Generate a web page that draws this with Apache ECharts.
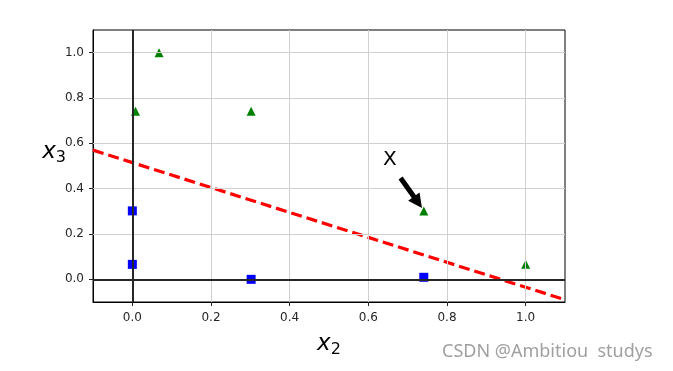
<!DOCTYPE html>
<html>
<head>
<meta charset="utf-8">
<script src="https://cdn.jsdelivr.net/npm/echarts@6/dist/echarts.min.js"></script>
<style>html,body{margin:0;padding:0;background:#fff;}#c{width:673px;height:371px;}</style>
</head>
<body>
<div id="c"></div>
<script>
// Data
const squaresX = [0.0, 0.0, 0.302, 0.741];
const squaresY = [0.302, 0.066, 0.0, 0.009];
const trianglesX = [0.068, 0.008, 0.302, 0.741, 1.0];
const trianglesY = [1.0, 0.741, 0.741, 0.302, 0.066];
const boundaryX = [-0.1, 1.1];
const boundaryY = [0.57, -0.09];
const xTicks = [0.0, 0.2, 0.4, 0.6, 0.8, 1.0];
const yTicks = [0.0, 0.2, 0.4, 0.6, 0.8, 1.0];
const xRange = [-0.1, 1.1];
const yRange = [-0.1, 1.1];
const arrowTail = [0.682, 0.447];
const arrowTip = [0.726, 0.34];
const labelPos = [0.655, 0.526];
const labelText = 'X';

const zip = (a, b) => a.map((v, i) => [v, b[i]]);
const tickFont = {fontFamily: 'DejaVu Sans', fontSize: 12, color: '#262626'};
const fmt = v => v.toFixed(1);

const chart = echarts.init(document.getElementById('c'), null, {renderer: 'canvas'});
chart.setOption({
  animation: false,
  backgroundColor: '#fff',
  grid: {left: 93, right: 108, top: 30, bottom: 69, show: true, borderColor: '#000', borderWidth: 1, backgroundColor: 'transparent'},
  xAxis: {
    type: 'value', min: xRange[0], max: xRange[1],
    axisLine: {show: true, onZero: false, lineStyle: {color: '#000', width: 1}},
    axisTick: {show: true, customValues: xTicks, length: 4, lineStyle: {color: '#222'}},
    axisLabel: Object.assign({customValues: xTicks, formatter: fmt, margin: 10}, tickFont),
    splitLine: {show: false},
    name: '{x|x}{s|2}', nameLocation: 'middle', nameGap: 28, nameMoveOverlap: false,
    nameTextStyle: {rich: {
      x: {fontFamily: 'DejaVu Sans', fontStyle: 'italic', fontSize: 23, color: '#000'},
      s: {fontFamily: 'DejaVu Sans', fontSize: 16, color: '#000', padding: [12, 0, 0, 0]}
    }}
  },
  yAxis: {
    type: 'value', min: yRange[0], max: yRange[1],
    axisLine: {show: true, onZero: false, lineStyle: {color: '#000', width: 1}},
    axisTick: {show: true, customValues: yTicks, length: 4, lineStyle: {color: '#222'}},
    axisLabel: Object.assign({customValues: yTicks, formatter: fmt, margin: 9}, tickFont),
    splitLine: {show: false},
    name: '{x|x}{s|3}', nameLocation: 'middle', nameGap: 27, nameRotate: 0, nameMoveOverlap: false,
    nameTextStyle: {align: 'right', verticalAlign: 'bottom', rich: {
      x: {fontFamily: 'DejaVu Sans', fontStyle: 'italic', fontSize: 23, color: '#000'},
      s: {fontFamily: 'DejaVu Sans', fontSize: 16, color: '#000', padding: [12, 0, 0, 0]}
    }}
  },
  graphic: [{
    type: 'text', left: 442, top: 343, silent: true,
    style: {text: 'CSDN @Ambitiou  studys', fontFamily: 'Noto Sans', fontSize: 18, fill: '#a0a0a0'}
  }],
  series: [
    {
      type: 'line', data: [], z: 1, silent: true,
      markLine: {
        silent: true, symbol: ['none', 'none'], label: {show: false}, animation: false,
        lineStyle: {color: '#d0d0d0', width: 1, type: 'solid'},
        data: xTicks.map(v => ({xAxis: v})).concat(yTicks.map(v => ({yAxis: v})))
      }
    },
    {
      type: 'line', data: [], z: 2, silent: true,
      markLine: {
        silent: true, symbol: ['none', 'none'], label: {show: false}, animation: false,
        lineStyle: {color: '#262626', width: 2, type: 'solid'},
        data: [{xAxis: 0}, {yAxis: 0}]
      }
    },
    {
      type: 'scatter', z: 3, symbol: 'rect', symbolSize: 9,
      itemStyle: {color: '#0000ff', opacity: 1},
      data: zip(squaresX, squaresY)
    },
    {
      type: 'scatter', z: 3, symbol: 'triangle', symbolSize: 9,
      itemStyle: {color: '#008000', opacity: 1},
      data: zip(trianglesX, trianglesY)
    },
    {
      type: 'line', z: 4, showSymbol: false, symbol: 'none',
      lineStyle: {color: '#ff0000', width: 3.2, type: [11, 5]},
      data: zip(boundaryX, boundaryY),
      markPoint: {
        silent: true, animation: false, symbolSize: 0,
        label: {show: true, formatter: labelText, position: 'inside', fontFamily: 'DejaVu Sans', fontSize: 20, color: '#000'},
        data: [{coord: labelPos}]
      }
    },
    {
      type: 'line', z: 5, data: [], silent: true,
      markLine: {
        silent: true, animation: false, symbol: ['none', 'triangle'], symbolSize: 14,
        label: {show: false},
        lineStyle: {color: '#000', width: 5, type: 'solid'},
        data: [[{coord: arrowTail}, {coord: arrowTip}]]
      }
    }
  ]
});
</script>
</body>
</html>
